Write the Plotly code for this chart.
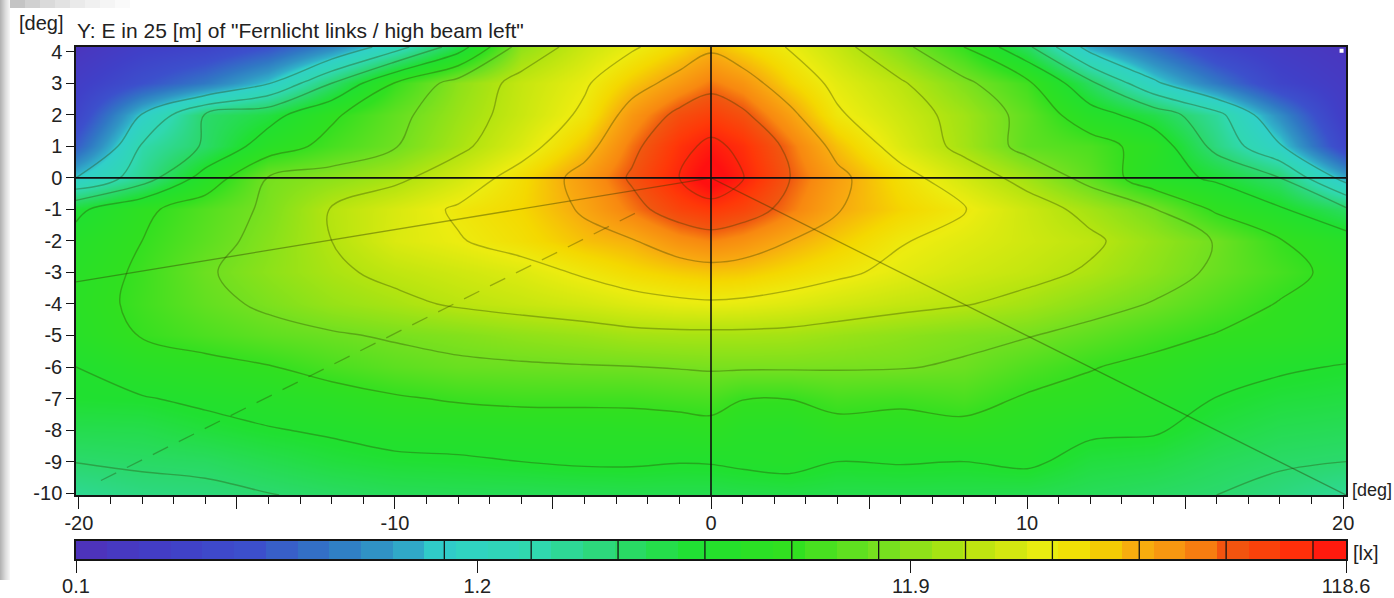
import plotly.graph_objects as go

# Grid of the measuring screen [deg]
x_deg = [-20.09,-18,-16,-14,-12,-10,-8,-6,-4,-2.5,-1,0,1,2.5,4,6,8,10,12,14,16,18,20.09]
y_deg = [4.15,3,2,1,0,-1,-2,-3,-4,-5,-6,-7,-8,-9,-10.06]

# Illuminance, in units of the contour step on the log colour scale
row_p415 = [-3.0,-2.2,-1.9,-1.2,0.0,1.56,3.5,6.45,7.37,7.9,8.45,8.85,8.45,7.95,7.3,6.25,5.0,3.2,0.6,-0.6,-1.9,-2.5,-3.0]
row_p3 = [-2.3,-1.2,-0.3,0.95,3.0,5.05,6.4,7.27,7.9,8.66,9.3,9.75,9.4,8.5,7.8,7.1,6.2,5.2,3.2,1.2,-0.3,-1.8,-2.6]
row_p2 = [-1.8,1.05,3.05,3.65,4.85,5.75,6.6,7.35,8.15,9.35,10.2,10.5,10.15,9.2,8.1,7.4,6.7,5.7,4.4,3.55,2.3,0.1,-2.4]
row_p1 = [-0.9,2.1,3.1,4.5,5.3,5.95,6.8,7.65,8.7,9.8,10.75,11.2,10.8,9.8,8.75,7.65,6.75,5.7,5.4,4.6,2.7,1.1,-1.8]
row_0 = [1.0,2.5,4.4,6.05,6.4,6.8,7.5,8.35,9.3,10.1,11.0,11.7,11.05,10.0,9.2,8.3,7.5,6.7,5.7,4.4,3.85,3.0,0.6]
row_m1 = [3.8,4.8,5.5,6.15,7.05,7.6,8.1,8.45,9.1,9.75,10.4,10.65,10.4,9.75,9.05,8.5,8.05,7.4,6.75,6.05,4.85,4.1,3.15]
row_m2 = [4.3,5.0,5.65,6.3,7.0,7.65,7.95,8.3,8.75,8.95,9.45,9.65,9.45,9.0,8.6,8.05,7.75,7.45,7.15,6.55,5.95,5.05,4.4]
row_m3 = [4.5,5.15,5.9,6.4,6.85,7.2,7.45,7.7,8.1,8.4,8.6,8.7,8.65,8.4,8.15,7.8,7.5,7.25,6.9,6.4,5.85,5.3,4.7]
row_m4 = [4.6,5.2,5.75,6.15,6.55,6.8,7.1,7.3,7.5,7.7,7.85,7.9,7.85,7.7,7.5,7.25,7.05,6.75,6.35,5.95,5.45,4.95,4.55]
row_m5 = [4.45,5.05,5.4,5.7,5.9,6.1,6.25,6.45,6.6,6.75,6.8,6.8,6.8,6.75,6.6,6.4,6.2,6.05,5.7,5.3,4.95,4.75,4.45]
row_m6 = [4.0,4.45,4.7,4.95,5.35,5.65,5.85,5.9,5.95,5.98,6.05,6.1,6.1,6.1,6.08,6.05,5.9,5.45,5.05,4.75,4.35,4.1,3.95]
row_m7 = [3.9,3.95,4.15,4.35,4.6,4.9,5.1,5.2,5.2,5.2,5.3,5.35,5.03,5.02,5.3,5.2,5.35,4.9,4.7,4.35,3.98,3.75,3.65]
row_m8 = [3.47,3.5,3.74,3.95,4.1,4.3,4.35,4.45,4.5,4.55,4.6,4.7,4.45,4.4,4.68,4.6,4.73,4.45,4.14,4.09,3.67,3.42,3.33]
row_m9 = [3.02,3.13,3.2,3.45,3.7,3.85,3.9,4.0,4.1,4.1,4.03,4.05,4.15,4.25,4.0,4.05,4.0,4.15,3.7,3.6,3.3,3.1,3.0]
row_m10 = [2.45,2.7,2.8,2.97,3.15,3.3,3.35,3.35,3.4,3.45,3.45,3.45,3.5,3.55,3.5,3.5,3.5,3.45,3.3,3.15,3.0,2.75,2.4]
z_rows = [row_p415,row_p3,row_p2,row_p1,row_0,row_m1,row_m2,row_m3,row_m4,row_m5,row_m6,row_m7,row_m8,row_m9,row_m10]

# Colour scale
scale_min, scale_max = -3.24, 11.38
scale_stops = [0,0.03,0.08,0.14,0.20,0.24,0.27,0.29,0.36,0.42,0.49,0.56,0.63,0.70,0.765,0.80,0.84,0.88,0.905,0.95,1]
scale_colors = ["#5030b8","#4838c0","#4040c8","#3c50cc","#3078c4","#3094c4","#30b0c8","#30d0c8","#30d8b0","#2cd874",
                "#20e030","#30e020","#70e020","#b4e410","#ecec10","#f4d800","#f8a810","#f88810","#f05810","#ff3808","#ff1010"]

# Legend bar
legend_levels = [-3.06,-2.70,-2.33,-1.97,-1.60,-1.24,-0.87,-0.51,-0.14,0.22,0.59,0.95,1.32,1.68,2.05,2.41,2.78,3.14,3.51,3.87,
                 4.24,4.60,4.97,5.33,5.70,6.06,6.43,6.79,7.16,7.52,7.89,8.25,8.62,8.98,9.35,9.71,10.08,10.44,10.81,11.2]
legend_tick_levels = [-3.24,1.38,6.37,11.38]
legend_tick_labels = ["0.1","1.2","11.9","118.6"]
contour_levels = [1,2,3,4,5,6,7,8,9,10,11]

# Axis ticks
x_ticks = [-20,-15,-10,-5,0,5,10,15,20]
x_tick_labels = ["-20","","-10","","0","","10","","20"]
y_ticks = [4,3,2,1,0,-1,-2,-3,-4,-5,-6,-7,-8,-9,-10]
y_tick_labels = ["4","3","2","1","0","-1","-2","-3","-4","-5","-6","-7","-8","-9","-10"]

# Overlay lines on the screen
road_x = [-20.09,0,20.09]
road_y = [-3.3,0,-10.06]
dash_x = [-19.3,-2.15]
dash_y = [-9.6,-1.0]

W, H = 1394, 598
FONT = "Liberation Sans, Arial, sans-serif"
TXT = "#222222"
FS = 20
colorscale = list(zip(scale_stops, scale_colors))

fig = go.Figure()
fig.add_trace(go.Heatmap(x=x_deg, y=y_deg[::-1], z=z_rows[::-1], zmin=scale_min, zmax=scale_max,
                         colorscale=colorscale, zsmooth="best", showscale=False, hoverinfo="skip"))
fig.add_trace(go.Contour(x=x_deg, y=y_deg[::-1], z=z_rows[::-1], showscale=False, hoverinfo="skip",
                         autocontour=False,
                         contours=dict(coloring="none", start=contour_levels[0], end=contour_levels[-1], size=1),
                         line=dict(color="rgba(45,60,0,0.34)", width=1.4, smoothing=1)))
fig.add_trace(go.Scatter(x=road_x, y=road_y, mode="lines", hoverinfo="skip",
                         line=dict(color="rgba(45,55,0,0.42)", width=1.3)))
fig.add_trace(go.Scatter(x=dash_x, y=dash_y, mode="lines", hoverinfo="skip",
                         line=dict(color="rgba(45,55,0,0.34)", width=1.3, dash="17px,12px")))
fig.add_trace(go.Scatter(x=[-20.09,20.09], y=[0,0], mode="lines", hoverinfo="skip", line=dict(color="#101010", width=1.6)))
fig.add_trace(go.Scatter(x=[0,0], y=[4.15,-10.06], mode="lines", hoverinfo="skip", line=dict(color="#101010", width=1.6)))
fig.add_trace(go.Scatter(x=[19.95], y=[4.03], mode="markers", hoverinfo="skip",
                         marker=dict(color="white", size=4, symbol="square")))
fig.add_trace(go.Heatmap(x=legend_levels, y=[0], z=[legend_levels], zmin=scale_min, zmax=scale_max,
                         colorscale=colorscale, showscale=False, hoverinfo="skip", xaxis="x2", yaxis="y2"))

shapes = []
# grey window edge: left band and top band
left_greys = ["#b4b4b4","#bcbcbc","#c4c4c4","#cccccc","#d4d4d4","#dcdcdc","#e2e2e2","#e8e8e8","#eeeeee","#f4f4f4"]
for i, c in enumerate(left_greys):
    shapes.append(dict(type="rect", xref="paper", yref="paper", layer="below", line_width=0, fillcolor=c,
                       x0=i/W, x1=(i+1)/W, y0=1-580/H, y1=1))
top_greys = ["#c4c4c4","#d0d0d0","#dadada","#e2e2e2","#eaeaea","#f0f0f0","#f5f5f5","#fafafa"]
for i, c in enumerate(top_greys):
    shapes.append(dict(type="rect", xref="paper", yref="paper", layer="below", line_width=0, fillcolor=c,
                       x0=(10+i*15)/W, x1=(10+(i+1)*15)/W, y0=1-8/H, y1=1))
for lev in contour_levels:
    shapes.append(dict(type="line", xref="x2", yref="y2 domain", x0=lev, x1=lev, y0=0, y1=1,
                       line=dict(color="#151515", width=1.3)))

def txt(s, px, py, size=FS):
    return dict(text=s, x=px/W, y=1-py/H, xref="paper", yref="paper", showarrow=False, xanchor="left", yanchor="middle",
                xshift=-1, font=dict(family=FONT, size=size, color=TXT))

fig.update_layout(
    width=W, height=H, autosize=False, margin=dict(l=0, r=0, t=0, b=0, pad=0),
    paper_bgcolor="white", plot_bgcolor="white", showlegend=False, shapes=shapes,
    font=dict(family=FONT, size=FS, color=TXT),
    xaxis=dict(domain=[76/W,1346/W], range=[-20.09,20.09], tickmode="array", tickvals=x_ticks, ticktext=x_tick_labels,
               ticks="outside", ticklen=12, tickcolor="#151515", tickwidth=1.3, showgrid=False, zeroline=False, automargin=False,
               showline=True, linecolor="#151515", linewidth=1.5, mirror=True, anchor="y", ticklabelstandoff=-3,
               minor=dict(dtick=1, tick0=0, ticks="outside", ticklen=7, tickcolor="#151515", tickwidth=1.3, showgrid=False),
               tickfont=dict(family=FONT, size=FS, color=TXT)),
    yaxis=dict(domain=[1-495/H,1-47/H], range=[-10.06,4.15], tickmode="array", tickvals=y_ticks, ticktext=y_tick_labels,
               automargin=False, ticks="outside", ticklen=8, tickcolor="#151515", tickwidth=1.3, showgrid=False, zeroline=False,
               showline=True, linecolor="#151515", linewidth=1.5, mirror=True, anchor="x",
               tickfont=dict(family=FONT, size=FS, color=TXT)),
    xaxis2=dict(domain=[76/W,1346/W], range=[scale_min,scale_max], tickmode="array", tickvals=legend_tick_levels, automargin=False,
                ticktext=legend_tick_labels, ticks="outside", ticklen=12, tickcolor="#151515", tickwidth=1.3, ticklabelstandoff=-4,
                showgrid=False, zeroline=False, showline=True, linecolor="#151515", linewidth=1.5, mirror=True, anchor="y2",
                tickfont=dict(family=FONT, size=FS, color=TXT)),
    yaxis2=dict(domain=[1-559/H,1-541/H], range=[-0.5,0.5], showticklabels=False, ticks="", showgrid=False, zeroline=False,
                automargin=False, showline=True, linecolor="#151515", linewidth=1.5, mirror=True, anchor="x2"),
    annotations=[
        txt('Y: E in 25 [m] of "Fernlicht links / high beam left"', 76, 31, 21),
        txt("[deg]", 18, 23),
        txt("[deg]", 1351, 490, 18),
        txt("[lx]", 1352, 553),
    ],
)
fig.write_html("out.html", config=dict(displayModeBar=False),
               post_script="document.body.style.margin='0';document.body.style.overflow='hidden';")
